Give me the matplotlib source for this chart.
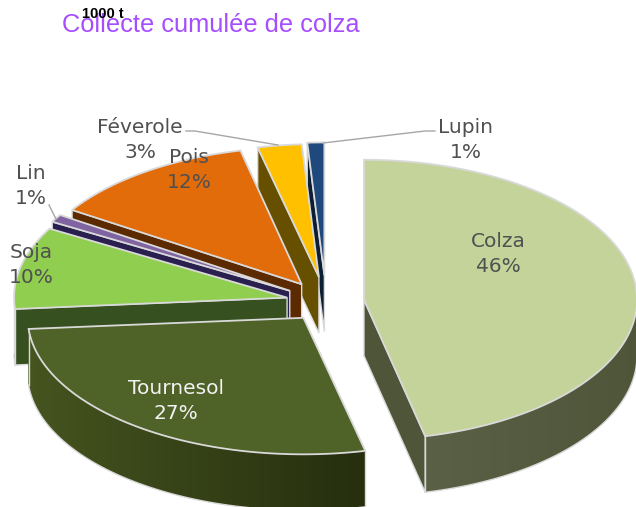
import numpy as np
import matplotlib
matplotlib.use('Agg')
import matplotlib.pyplot as plt
from matplotlib.colors import to_rgb

# Data (percent of the collect)
crops = ['Colza', 'Tournesol', 'Soja', 'Lin', 'Pois', 'Féverole', 'Lupin']
shares = [46.4, 27.3, 9.5, 0.9, 12.3, 2.6, 1.0]

# Styles
top_colors = ['#C3D39A', '#4F6228', '#8FCE4F', '#8064A2', '#E26B0A', '#FFC000', '#1F497D']
wall_colors = ['#4F5539', '#37501F', '#37501F', '#2A2050', '#5B2A00', '#665000', '#0C1E33']
rim_left = ['#5A6045', '#45541F', '#37501F', '#2A2050', '#5B2A00', '#665000', '#0C1E33']
rim_right = ['#4F5539', '#262E0E', '#37501F', '#2A2050', '#5B2A00', '#665000', '#0C1E33']
explode = [0.14, 0.14, 0.146, 0.155, 0.155, 0.18, 0.19]
ry_scale = [1, 0.975, 1, 1, 0.98, 0.95, 0.95]
rx_scale = [1, 1.01, 1, 1, 1, 1, 1]
text_colors = ['#505050', '#F2F2F2', '#505050', '#505050', '#505050', '#505050', '#505050']
label_xy = [(498, 254), (176, 401), (31, 265), (31, 186), (189, 170), (140, 140), (466, 140)]

# Pie geometry, in figure pixels
cx, cy = 326, 302
rx, ry = 273, 140
depth = 56
edge = '#D9D9D9'

fig = plt.figure(figsize=(6.36, 5.07), dpi=100)
ax = fig.add_axes([0, 0, 1, 1])
ax.set_xlim(0, 636)
ax.set_ylim(507, 0)
ax.axis('off')


def mix(c1, c2, t):
    return tuple((1-t)*np.array(to_rgb(c1)) + t*np.array(to_rgb(c2)))


ends = np.cumsum(shares)*3.6
starts = np.concatenate(([0], ends[:-1]))

# Slices are painted from the back to the front
for i in [6, 5, 4, 3, 2, 1, 0]:
    a0, a1 = starts[i], ends[i]
    mid = np.radians((a0+a1)/2)
    ox = cx + explode[i]*rx*np.sin(mid)
    oy = cy - explode[i]*ry*np.cos(mid)
    rxi, ryi = rx*rx_scale[i], ry*ry_scale[i]

    def point(angle):
        a = np.radians(angle)
        return ox + rxi*np.sin(a), oy - ryi*np.cos(a)

    # Cut faces
    for a, visible in [(a0, a0 >= 180), (a1, a1 <= 180)]:
        if visible:
            px, py = point(a)
            ax.fill([ox, px, px, ox], [oy, py, py+depth, oy+depth],
                    color=wall_colors[i], ec=edge, lw=1.0, zorder=10-i)

    # Outer rim, with a left to right shade
    r0, r1 = max(a0, 90), min(a1, 270)
    if r1 > r0:
        aa = np.linspace(r0, r1, 90)
        xs, ys = point(aa)
        for k in range(len(aa)-1):
            t = (xs[k] - xs.min())/(xs.max() - xs.min())
            c = mix(rim_left[i], rim_right[i], t)
            # strips overlap the next one so no seam shows
            n = min(k+3, len(aa)-1)
            ax.fill([xs[k], xs[k+1], xs[n], xs[n], xs[k+1], xs[k]],
                    [ys[k], ys[k+1], ys[n], ys[n]+depth, ys[k+1]+depth, ys[k]+depth],
                    fc=c, ec='none', zorder=10-i)
        ax.plot(xs, ys+depth, color=edge, lw=1.0, zorder=10-i)
        ax.plot([xs[0], xs[0]], [ys[0], ys[0]+depth], color=edge, lw=1.0, zorder=10-i)
        ax.plot([xs[-1], xs[-1]], [ys[-1], ys[-1]+depth], color=edge, lw=1.0, zorder=10-i)

    # Top face
    aa = np.linspace(a0, a1, 120)
    xs, ys = point(aa)
    ax.fill(np.r_[ox, xs], np.r_[oy, ys], fc=top_colors[i], ec=edge, lw=1.3,
            joinstyle='miter', zorder=10-i)

# Labels
for i in range(len(crops)):
    ax.text(label_xy[i][0], label_xy[i][1], f'{crops[i]}\n{shares[i]:.0f}%',
            color=text_colors[i], fontsize=14.5, family='DejaVu Sans', ha='center', va='center',
            linespacing=1.45, zorder=30)

# Leader lines
ax.plot([186, 195, 278], [131, 131, 145], color='#A6A6A6', lw=1.0, zorder=20)
ax.plot([435, 425, 323], [131, 131, 143], color='#A6A6A6', lw=1.0, zorder=20)
ax.plot([49, 56], [205, 219], color='#A6A6A6', lw=1.0, zorder=20)

# Titles
ax.text(62, 25, 'Collecte cumulée de colza', color='#A64DFF', fontsize=18.3,
        family='Liberation Sans', ha='left', va='center', zorder=31)
ax.text(82, 14, '1000 t', color='black', fontsize=10.5, fontweight='bold',
        family='Liberation Sans', ha='left', va='center', zorder=32)

fig.savefig('out.png', dpi=100)
